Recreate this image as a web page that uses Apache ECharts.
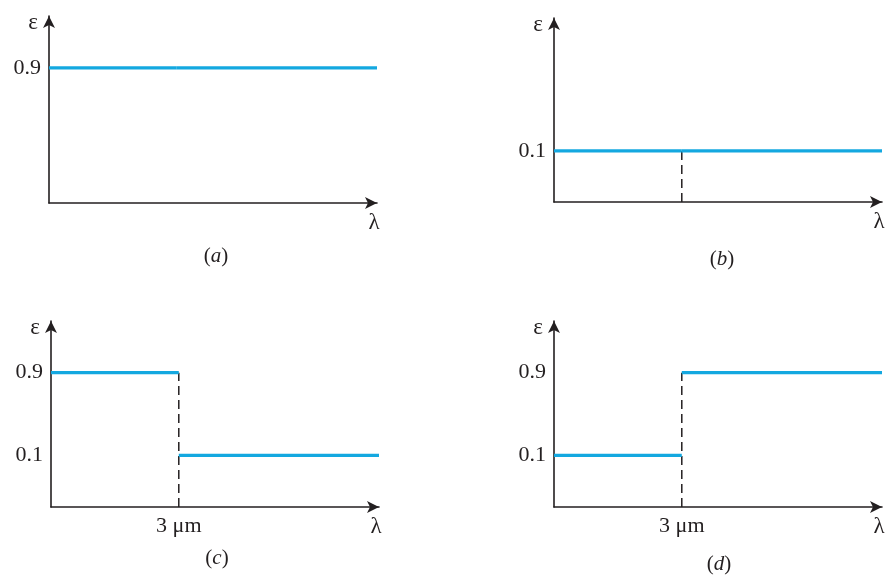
<!DOCTYPE html>
<html>
<head>
<meta charset="utf-8">
<title>Spectral emissivity models</title>
<script src="https://cdn.jsdelivr.net/npm/echarts@6/dist/echarts.min.js"></script>
<style>
  html, body { margin: 0; padding: 0; background: #ffffff; }
  #chart { width: 891px; height: 578px; }
</style>
</head>
<body>
<div id="chart"></div>
<script>
// Wavelength breakpoints (μm): start of range, cutoff, end of drawn range
const wavelength = [0, 3, 7.7];

// Emissivity on each side of the cutoff, one array per panel
const emissivityA = [0.9, 0.9];
const emissivityB = [0.1, 0.1];
const emissivityC = [0.9, 0.1];
const emissivityD = [0.1, 0.9];

// Whether a dashed guide is drawn at the cutoff wavelength
const showCutoff = [false, true, true, true];

// Tick labels shown on each panel
const yTickLabels = [['0.9'], ['0.1'], ['0.9', '0.1'], ['0.9', '0.1']];
const xTickLabels = [[], [], ['3 μm'], ['3 μm']];
const xTickValues = [[], [], [3], [3]];

// Panel captions
const captions = ['a', 'b', 'c', 'd'];

// Schematic axis extents (not to scale near zero)
const Y_MIN = -0.4, Y_MAX = 1.4, X_MAX = 7.7;

const INK = '#231f20';
const CYAN = '#14a8e0';
const SERIF = 'Liberation Serif';

const panels = [emissivityA, emissivityB, emissivityC, emissivityD];

const grids = [
  { left: 49,  top: 16,  width: 328, height: 187 },
  { left: 554, top: 18,  width: 328, height: 184 },
  { left: 51,  top: 321, width: 328, height: 186 },
  { left: 554, top: 321, width: 328, height: 186 }
];

const captionPos = [
  { x: 216, y: 246 },
  { x: 722, y: 249 },
  { x: 217, y: 548 },
  { x: 719, y: 554 }
];

function fmt1(v) {
  return (Math.round(v * 10) / 10).toFixed(1);
}

const xAxes = [], yAxes = [], series = [], titles = [];

panels.forEach((emis, p) => {
  xAxes.push({
    type: 'value',
    gridIndex: p,
    min: 0,
    max: X_MAX,
    interval: 1,
    name: 'λ',
    nameLocation: 'end',
    nameGap: -3,
    nameTextStyle: {
      fontFamily: SERIF, fontSize: 23, color: INK,
      align: 'center', verticalAlign: 'top', padding: [8, 0, 0, 0]
    },
    axisLine: {
      show: true,
      onZero: false,
      symbol: ['none', 'arrow'],
      symbolSize: [9, 12],
      lineStyle: { color: INK, width: 1.6 }
    },
    axisTick: { show: false },
    splitLine: { show: false },
    axisLabel: {
      margin: 8,
      fontFamily: SERIF, fontSize: 22, color: INK,
      formatter: v => {
        const i = xTickValues[p].indexOf(Math.round(v * 100) / 100);
        return i >= 0 ? xTickLabels[p][i] : '';
      }
    }
  });

  yAxes.push({
    type: 'value',
    gridIndex: p,
    min: Y_MIN,
    max: Y_MAX,
    interval: 0.1,
    name: 'ε',
    nameLocation: 'end',
    nameGap: -7,
    nameTextStyle: {
      fontFamily: SERIF, fontSize: 23, color: INK,
      align: 'right', verticalAlign: 'middle', padding: [0, 11, 0, 0]
    },
    axisLine: {
      show: true,
      onZero: false,
      symbol: ['none', 'arrow'],
      symbolSize: [9, 12],
      lineStyle: { color: INK, width: 1.6 }
    },
    axisTick: { show: false },
    splitLine: { show: false },
    axisLabel: {
      margin: 8,
      fontFamily: SERIF, fontSize: 22, color: INK,
      formatter: v => {
        const s = fmt1(v);
        return yTickLabels[p].indexOf(s) >= 0 ? s : '';
      }
    }
  });

  // Dashed guide at the cutoff wavelength, from the base up to the higher level
  if (showCutoff[p]) {
    series.push({
      type: 'line',
      xAxisIndex: p,
      yAxisIndex: p,
      data: [[wavelength[1], Y_MIN], [wavelength[1], Math.max(emis[0], emis[1])]],
      showSymbol: false,
      silent: true,
      z: 1,
      lineStyle: { color: INK, width: 1.5, type: [9, 5] }
    });
  }

  // Constant emissivity segment on each side of the cutoff
  for (let s = 0; s < emis.length; s++) {
    series.push({
      type: 'line',
      xAxisIndex: p,
      yAxisIndex: p,
      data: [[wavelength[s], emis[s]], [wavelength[s + 1], emis[s]]],
      showSymbol: false,
      silent: true,
      z: 3,
      lineStyle: { color: CYAN, width: 3.2, cap: 'butt' }
    });
  }

  titles.push({
    text: '{p|(}{i|' + captions[p] + '}{p|)}',
    left: captionPos[p].x,
    top: captionPos[p].y,
    textAlign: 'center',
    padding: 0,
    textStyle: {
      fontWeight: 'normal',
      rich: {
        p: { fontFamily: SERIF, fontSize: 21, color: INK, fontWeight: 'normal' },
        i: { fontFamily: SERIF, fontSize: 21, color: INK, fontWeight: 'normal', fontStyle: 'italic' }
      }
    }
  });
});

const chart = echarts.init(document.getElementById('chart'), null, { renderer: 'canvas' });
chart.setOption({
  animation: false,
  backgroundColor: '#ffffff',
  title: titles,
  grid: grids,
  xAxis: xAxes,
  yAxis: yAxes,
  series: series
});
</script>
</body>
</html>
